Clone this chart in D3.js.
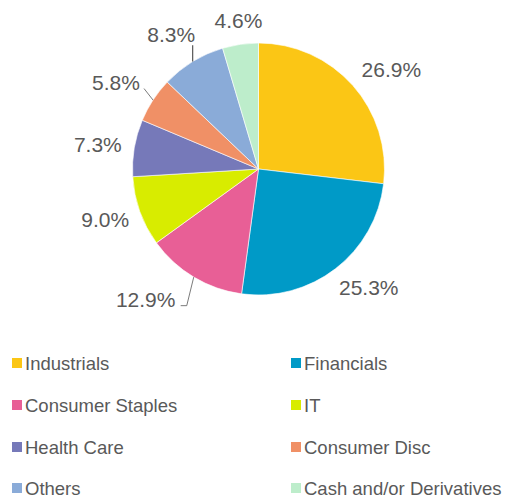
<!DOCTYPE html>
<html>
<head>
<meta charset="utf-8">
<script src="https://cdn.jsdelivr.net/npm/d3@7"></script>
<style>
  body { margin: 0; background: #fff; }
  svg { display: block; font-family: "Liberation Sans", Arial, sans-serif; }
</style>
</head>
<body>
<div id="chart"></div>
<script>
// sector weights, clockwise from 12 o'clock
var sectors = ["Industrials", "Financials", "Consumer Staples", "IT", "Health Care", "Consumer Disc", "Others", "Cash and/or Derivatives"];
var weights = [26.9, 25.3, 12.9, 9.0, 7.3, 5.8, 8.3, 4.6];
var colours = ["#fbc615", "#009ac7", "#e85f96", "#d8ec00", "#7679b9", "#f09066", "#8aabd8", "#bdedcb"];

var W = 506, H = 495;
var cx = 258.5, cy = 169, r = 126;

var svg = d3.select("#chart").append("svg")
  .attr("width", W).attr("height", H);

var data = sectors.map(function(s, i) { return {name: s, value: weights[i], colour: colours[i]}; });

var pie = d3.pie().sort(null).value(function(d) { return d.value; });
var arc = d3.arc().innerRadius(0).outerRadius(r);
var arcs = pie(data);

var g = svg.append("g").attr("transform", "translate(" + cx + "," + cy + ")");

g.selectAll("path.slice")
  .data(arcs)
  .enter().append("path")
    .attr("class", "slice")
    .attr("d", arc)
    .attr("fill", function(d) { return d.data.colour; })
    .attr("stroke", "#fff")
    .attr("stroke-width", 0.6);

// label placement: point outside the arc, pushed by half the text box
function labelPos(d, i) {
  var a = (d.startAngle + d.endAngle) / 2;
  var s = Math.sin(a), c = -Math.cos(a);
  var lr = 140;
  if (d.data.name == "Others" || d.data.name == "Consumer Disc") lr = 148;
  var x = lr * s + s * 27 + (s > 0 ? 8 : 4), y = lr * c + c * 10;
  if (d.data.name == "Consumer Staples") { x -= 31; y += 2; }
  return [x, y];
}

var fmt = function(v) { return v.toFixed(1) + "%"; };

// leader lines for the labels that sit away from their slice
arcs.forEach(function(d, i) {
  var a = (d.startAngle + d.endAngle) / 2;
  var ex = r * Math.sin(a), ey = -r * Math.cos(a);
  var p = labelPos(d, i);
  var pts = null;
  if (d.data.name == "Others") pts = [[ex, ey], [ex, p[1] + 11]];
  if (d.data.name == "Consumer Disc") pts = [[ex, ey], [p[0] + 28, p[1] + 6]];
  if (d.data.name == "Consumer Staples") pts = [[ex, ey], [ex - 7, p[1] + 6], [p[0] + 35, p[1] + 6]];
  if (pts) {
    g.append("path")
      .attr("d", d3.line()(pts))
      .attr("fill", "none")
      .attr("stroke", d.data.name == "Others" ? "#000" : "#595959")
      .attr("stroke-width", 0.8);
  }
});

g.selectAll("text.lbl")
  .data(arcs)
  .enter().append("text")
    .attr("class", "lbl")
    .attr("x", function(d, i) { return labelPos(d, i)[0]; })
    .attr("y", function(d, i) { return labelPos(d, i)[1]; })
    .attr("dy", "0.36em")
    .attr("text-anchor", "middle")
    .attr("font-size", 21)
    .attr("fill", "#595959")
    .text(function(d) { return fmt(d.data.value); });

// legend, two columns
var legend = svg.append("g");
var colX = [12, 291], rowY = [363, 405, 447, 488];
var item = legend.selectAll("g.item")
  .data(data)
  .enter().append("g")
    .attr("class", "item")
    .attr("transform", function(d, i) { return "translate(" + colX[i % 2] + "," + rowY[Math.floor(i / 2)] + ")"; });

item.append("rect")
  .attr("x", 0).attr("y", -5)
  .attr("width", 10).attr("height", 10)
  .attr("fill", function(d) { return d.colour; });

item.append("text")
  .attr("x", 13).attr("y", 0)
  .attr("dy", "0.36em")
  .attr("font-size", 18.5)
  .attr("fill", "#595959")
  .text(function(d) { return d.name; });
</script>
</body>
</html>
